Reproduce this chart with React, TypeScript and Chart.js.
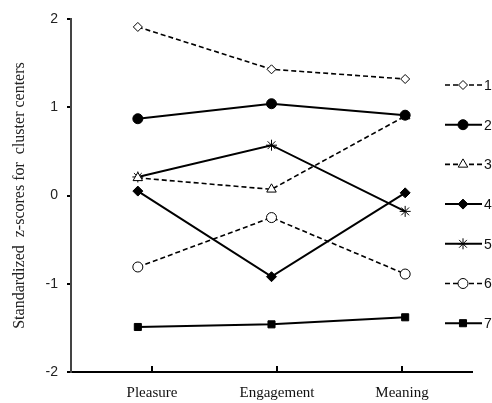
import React, { useEffect, useRef } from "react";
import { Chart, registerables } from "chart.js";
import { drawPoint } from "chart.js/helpers";

Chart.register(...registerables);

const categories = ["Pleasure", "Engagement", "Meaning"];
const clusterNames = ["1", "2", "3", "4", "5", "6", "7"];
const cluster1 = [1.91, 1.43, 1.32];
const cluster2 = [0.87, 1.04, 0.91];
const cluster3 = [0.2, 0.07, 0.9];
const cluster4 = [0.05, -0.92, 0.03];
const cluster5 = [0.21, 0.57, -0.18];
const cluster6 = [-0.81, -0.25, -0.89];
const cluster7 = [-1.49, -1.46, -1.38];
const yTicks = [-2, -1, 0, 1, 2];

const seriesValues = [cluster1, cluster2, cluster3, cluster4, cluster5, cluster6, cluster7];
const seriesStyles = [
  { dashed: true, pointStyle: "rectRot", filled: false, radius: 4.5 },
  { dashed: false, pointStyle: "circle", filled: true, radius: 5 },
  { dashed: true, pointStyle: "triangle", filled: false, radius: 5.5 },
  { dashed: false, pointStyle: "rectRot", filled: true, radius: 5 },
  { dashed: false, pointStyle: "star", filled: false, radius: 5.5 },
  { dashed: true, pointStyle: "circle", filled: false, radius: 5 },
  { dashed: false, pointStyle: "rect", filled: true, radius: 5 },
];

const legendPlugin = {
  id: "customLegend",
  afterDraw(chart: any) {
    const ctx = chart.ctx;
    chart.data.datasets.forEach((ds: any, i: number) => {
      const y = 85 + 39.7 * i;
      ctx.save();
      ctx.strokeStyle = "#000";
      ctx.lineWidth = ds.borderWidth;
      ctx.setLineDash(ds.borderDash || []);
      ctx.beginPath();
      ctx.moveTo(445, y);
      ctx.lineTo(482, y);
      ctx.stroke();
      ctx.setLineDash([]);
      ctx.fillStyle = ds.pointBackgroundColor;
      ctx.strokeStyle = "#000";
      ctx.lineWidth = 1;
      drawPoint(ctx, { pointStyle: ds.pointStyle, radius: ds.pointRadius, borderWidth: 1, rotation: 0 } as any, 463, y);
      ctx.fillStyle = "#111";
      ctx.font = "14px 'Liberation Sans', Arial, sans-serif";
      ctx.textAlign = "left";
      ctx.textBaseline = "middle";
      ctx.fillText(ds.label, 484, y + 1);
      ctx.restore();
    });
  },
};

export default function App() {
  const ref = useRef<HTMLCanvasElement>(null);
  useEffect(() => {
    const canvas = ref.current!;
    const chart = new Chart(canvas, {
      type: "line",
      data: {
        labels: categories,
        datasets: seriesValues.map((vals, i) => {
          const s = seriesStyles[i];
          return {
            label: clusterNames[i],
            data: vals,
            xAxisID: "x",
            yAxisID: "y",
            borderColor: "#000",
            borderWidth: s.dashed ? 1.6 : 2,
            borderDash: s.dashed ? [5, 3] : [],
            pointStyle: s.pointStyle as any,
            pointRadius: s.radius,
            pointBorderWidth: 1,
            pointBorderColor: "#000",
            pointBackgroundColor: s.filled ? "#000" : "#fff",
            tension: 0,
          } as any;
        }),
      },
      options: {
        animation: false,
        responsive: false,
        devicePixelRatio: 1,
        layout: { padding: { top: 19, right: 20, left: 0, bottom: 0 } },
        plugins: { legend: { display: false }, tooltip: { enabled: false } },
        scales: {
          x: {
            type: "category",
            display: false,
            offset: true,
          },
          xl: {
            type: "linear",
            position: "bottom",
            min: -0.648,
            max: 2.56,
            afterBuildTicks(scale: any) {
              scale.ticks = categories.map((_, i) => ({ value: i }));
            },
            afterFit(scale: any) {
              scale.height = 31;
            },
            grid: { display: true, drawOnChartArea: false, drawTicks: true, tickLength: -6, color: "#000", lineWidth: 2 },
            border: { display: true, color: "#000", width: 2 },
            ticks: {
              padding: 18,
              color: "#111",
              font: { family: "'Liberation Serif', 'Times New Roman', serif", size: 15 },
              callback: (v: any) => categories[v] ?? "",
            },
          } as any,
          y: {
            min: -2,
            max: 2,
            afterBuildTicks(scale: any) {
              scale.ticks = yTicks.map((v) => ({ value: v }));
            },
            afterFit(scale: any) {
              scale.width = 71;
            },
            grid: { drawOnChartArea: false, drawTicks: true, tickLength: 4, color: "#000", lineWidth: 2 },
            border: { display: true, color: "#444", width: 2 },
            ticks: {
              padding: 9,
              color: "#222",
              font: { family: "'Liberation Sans', Arial, sans-serif", size: 14 },
            },
            title: {
              display: true,
              text: "Standardized  z-scores for  cluster centers",
              color: "#222",
              padding: { top: 10, bottom: 0 },
              font: { family: "'Liberation Serif', 'Times New Roman', serif", size: 16, weight: "normal" },
            },
          } as any,
        },
      },
      plugins: [legendPlugin],
    });
    return () => chart.destroy();
  }, []);
  return (
    <div style={{ position: "fixed", left: 0, top: 0, width: 492, height: 403, background: "#fff" }}>
      <canvas ref={ref} width={492} height={403} style={{ display: "block" }} />
    </div>
  );
}
